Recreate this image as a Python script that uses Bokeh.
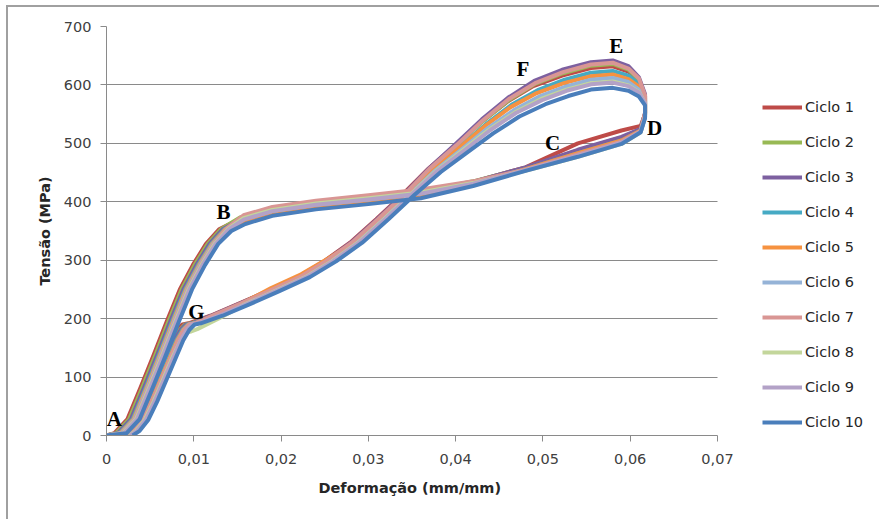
from bokeh.plotting import figure
from bokeh.models import Range1d, FixedTicker, Legend, LegendItem, Label, Title
from bokeh.embed import file_html
from bokeh.resources import INLINE

# ---------------- data ----------------
cycle_names = ["Ciclo 1", "Ciclo 2", "Ciclo 3", "Ciclo 4", "Ciclo 5",
               "Ciclo 6", "Ciclo 7", "Ciclo 8", "Ciclo 9", "Ciclo 10"]
cycle_colors = ["#BE4B48", "#98B954", "#7D60A0", "#46AAC4", "#F69240",
                "#95B3D7", "#D99694", "#C3D69B", "#B3A2C7", "#4A7EBB"]

strain_1 = [0.0000, 0.0009, 0.0024, 0.0039, 0.0054, 0.0069, 0.0084, 0.0099, 0.0114, 0.0129,
            0.0152, 0.0190, 0.0240, 0.0300, 0.0360, 0.0420, 0.0480, 0.0540, 0.0590, 0.0612,
            0.0617, 0.0617, 0.0610, 0.0598, 0.0580, 0.0555, 0.0522, 0.0489, 0.0459, 0.0429,
            0.0399, 0.0369, 0.0339, 0.0309, 0.0279, 0.0249, 0.0219, 0.0184, 0.0149, 0.0119,
            0.0094, 0.0087, 0.0081, 0.0074, 0.0064, 0.0054, 0.0044, 0.0034, 0.0024, 0.0016]
stress_1 = [0, 4, 28, 82, 138, 195, 250, 292, 328, 353,
            370, 384, 395, 404, 414, 434, 459, 500, 522, 530,
            550, 580, 606, 623, 632, 629, 616, 598, 571, 536,
            496, 457, 412, 370, 330, 298, 271, 247, 224, 205,
            192, 190, 181, 163, 128, 93, 58, 27, 8, 0]

strain_2 = [0.0000, 0.0011, 0.0026, 0.0041, 0.0056, 0.0071, 0.0086, 0.0101, 0.0116, 0.0131,
            0.0153, 0.0190, 0.0240, 0.0300, 0.0360, 0.0420, 0.0480, 0.0540, 0.0590, 0.0612,
            0.0617, 0.0617, 0.0610, 0.0598, 0.0580, 0.0555, 0.0523, 0.0491, 0.0461, 0.0431,
            0.0401, 0.0371, 0.0341, 0.0311, 0.0281, 0.0251, 0.0221, 0.0186, 0.0151, 0.0121,
            0.0097, 0.0090, 0.0084, 0.0077, 0.0067, 0.0057, 0.0047, 0.0037, 0.0027, 0.0019]
stress_2 = [0, 4, 28, 82, 138, 195, 250, 292, 328, 353,
            373, 387, 398, 407, 417, 435, 458, 488, 510, 524,
            551, 581, 609, 626, 636, 633, 620, 602, 574, 538,
            497, 457, 412, 370, 330, 298, 271, 247, 224, 205,
            192, 190, 181, 163, 128, 93, 58, 27, 8, 0]

strain_3 = [0.0000, 0.0013, 0.0028, 0.0043, 0.0058, 0.0073, 0.0088, 0.0103, 0.0118, 0.0133,
            0.0154, 0.0190, 0.0240, 0.0300, 0.0360, 0.0420, 0.0480, 0.0540, 0.0590, 0.0612,
            0.0617, 0.0617, 0.0610, 0.0598, 0.0580, 0.0555, 0.0522, 0.0490, 0.0460, 0.0430,
            0.0400, 0.0370, 0.0340, 0.0310, 0.0280, 0.0250, 0.0220, 0.0185, 0.0150, 0.0120,
            0.0098, 0.0091, 0.0085, 0.0078, 0.0068, 0.0058, 0.0048, 0.0038, 0.0028, 0.0020]
stress_3 = [0, 4, 28, 82, 138, 195, 250, 292, 328, 353,
            370, 384, 395, 404, 414, 434, 459, 489, 511, 525,
            552, 584, 613, 632, 642, 639, 626, 607, 578, 541,
            499, 458, 412, 370, 330, 298, 271, 247, 224, 205,
            192, 190, 181, 163, 128, 93, 58, 27, 8, 0]

strain_4 = [0.0000, 0.0015, 0.0030, 0.0045, 0.0060, 0.0075, 0.0090, 0.0105, 0.0120, 0.0135,
            0.0155, 0.0190, 0.0240, 0.0300, 0.0360, 0.0420, 0.0480, 0.0540, 0.0590, 0.0612,
            0.0617, 0.0617, 0.0610, 0.0598, 0.0580, 0.0555, 0.0525, 0.0494, 0.0464, 0.0434,
            0.0404, 0.0374, 0.0344, 0.0314, 0.0284, 0.0254, 0.0224, 0.0189, 0.0154, 0.0124,
            0.0100, 0.0093, 0.0087, 0.0080, 0.0070, 0.0060, 0.0050, 0.0040, 0.0030, 0.0022]
stress_4 = [0, 4, 28, 82, 138, 195, 250, 292, 328, 353,
            368, 382, 393, 402, 412, 431, 456, 483, 505, 522,
            549, 577, 601, 616, 624, 621, 609, 591, 566, 532,
            493, 456, 412, 370, 330, 298, 271, 247, 224, 205,
            192, 190, 181, 163, 128, 93, 58, 27, 8, 0]

strain_5 = [0.0000, 0.0016, 0.0031, 0.0046, 0.0061, 0.0076, 0.0091, 0.0106, 0.0121, 0.0136,
            0.0155, 0.0190, 0.0240, 0.0300, 0.0360, 0.0420, 0.0480, 0.0540, 0.0590, 0.0612,
            0.0617, 0.0617, 0.0610, 0.0598, 0.0580, 0.0555, 0.0524, 0.0493, 0.0463, 0.0433,
            0.0403, 0.0373, 0.0343, 0.0313, 0.0283, 0.0253, 0.0223, 0.0188, 0.0153, 0.0123,
            0.0101, 0.0094, 0.0088, 0.0081, 0.0071, 0.0061, 0.0051, 0.0041, 0.0031, 0.0023]
stress_5 = [0, 4, 28, 82, 138, 195, 250, 292, 328, 353,
            364, 378, 389, 398, 408, 429, 456, 483, 505, 522,
            548, 574, 597, 610, 618, 615, 603, 586, 562, 529,
            491, 455, 412, 370, 330, 302, 276, 252, 224, 205,
            192, 190, 181, 163, 128, 93, 58, 27, 8, 0]

strain_6 = [0.0000, 0.0017, 0.0032, 0.0047, 0.0062, 0.0077, 0.0092, 0.0107, 0.0122, 0.0137,
            0.0156, 0.0190, 0.0240, 0.0300, 0.0360, 0.0420, 0.0480, 0.0540, 0.0590, 0.0612,
            0.0617, 0.0617, 0.0610, 0.0598, 0.0580, 0.0555, 0.0526, 0.0497, 0.0467, 0.0437,
            0.0407, 0.0377, 0.0347, 0.0317, 0.0287, 0.0257, 0.0227, 0.0192, 0.0157, 0.0127,
            0.0102, 0.0095, 0.0089, 0.0082, 0.0072, 0.0062, 0.0052, 0.0042, 0.0032, 0.0024]
stress_6 = [0, 4, 28, 82, 138, 195, 250, 292, 328, 353,
            370, 384, 395, 404, 414, 431, 454, 480, 502, 520,
            546, 572, 592, 605, 612, 609, 597, 581, 557, 526,
            490, 454, 412, 370, 330, 298, 271, 247, 224, 205,
            192, 190, 181, 163, 128, 93, 58, 27, 8, 0]

strain_7 = [0.0000, 0.0018, 0.0033, 0.0048, 0.0063, 0.0078, 0.0093, 0.0108, 0.0123, 0.0138,
            0.0157, 0.0190, 0.0240, 0.0300, 0.0360, 0.0420, 0.0480, 0.0540, 0.0590, 0.0612,
            0.0617, 0.0617, 0.0610, 0.0598, 0.0580, 0.0555, 0.0523, 0.0491, 0.0461, 0.0431,
            0.0401, 0.0371, 0.0341, 0.0311, 0.0281, 0.0251, 0.0221, 0.0186, 0.0151, 0.0121,
            0.0102, 0.0095, 0.0089, 0.0082, 0.0072, 0.0062, 0.0052, 0.0042, 0.0032, 0.0024]
stress_7 = [0, 4, 28, 82, 138, 195, 250, 292, 328, 355,
            377, 391, 402, 411, 421, 435, 455, 481, 503, 521,
            552, 582, 611, 628, 638, 635, 622, 603, 576, 539,
            497, 458, 412, 370, 330, 298, 271, 247, 224, 205,
            192, 190, 181, 163, 128, 93, 58, 27, 8, 0]

strain_8 = [0.0000, 0.0019, 0.0034, 0.0049, 0.0064, 0.0079, 0.0094, 0.0109, 0.0124, 0.0139,
            0.0157, 0.0190, 0.0240, 0.0300, 0.0360, 0.0420, 0.0480, 0.0540, 0.0590, 0.0612,
            0.0617, 0.0617, 0.0610, 0.0598, 0.0580, 0.0555, 0.0527, 0.0498, 0.0468, 0.0438,
            0.0408, 0.0378, 0.0348, 0.0318, 0.0288, 0.0258, 0.0228, 0.0193, 0.0158, 0.0128,
            0.0104, 0.0097, 0.0091, 0.0084, 0.0074, 0.0064, 0.0054, 0.0044, 0.0034, 0.0026]
stress_8 = [0, 4, 28, 82, 138, 195, 250, 292, 328, 353,
            372, 386, 397, 406, 416, 432, 453, 477, 499, 519,
            545, 569, 588, 599, 606, 603, 592, 576, 553, 523,
            488, 453, 412, 370, 330, 298, 271, 247, 224, 200,
            182, 178, 176, 160, 128, 93, 58, 27, 8, 0]

strain_9 = [0.0000, 0.0020, 0.0035, 0.0050, 0.0065, 0.0080, 0.0095, 0.0110, 0.0125, 0.0140,
            0.0158, 0.0190, 0.0240, 0.0300, 0.0360, 0.0420, 0.0480, 0.0540, 0.0590, 0.0612,
            0.0617, 0.0617, 0.0610, 0.0598, 0.0580, 0.0555, 0.0527, 0.0499, 0.0469, 0.0439,
            0.0409, 0.0379, 0.0349, 0.0319, 0.0289, 0.0259, 0.0229, 0.0194, 0.0159, 0.0129,
            0.0105, 0.0098, 0.0092, 0.0085, 0.0075, 0.0065, 0.0055, 0.0045, 0.0035, 0.0027]
stress_9 = [0, 4, 28, 82, 138, 195, 250, 292, 328, 353,
            370, 384, 395, 404, 414, 431, 454, 479, 501, 520,
            545, 569, 587, 598, 604, 601, 590, 574, 552, 522,
            487, 453, 412, 370, 330, 298, 271, 247, 224, 205,
            192, 190, 181, 163, 128, 93, 58, 27, 8, 0]

strain_10 = [0.0000, 0.0023, 0.0038, 0.0053, 0.0068, 0.0083, 0.0098, 0.0113, 0.0128, 0.0143,
             0.0159, 0.0190, 0.0240, 0.0300, 0.0360, 0.0420, 0.0480, 0.0540, 0.0590, 0.0612,
             0.0617, 0.0617, 0.0610, 0.0598, 0.0580, 0.0555, 0.0529, 0.0503, 0.0473, 0.0443,
             0.0413, 0.0383, 0.0353, 0.0323, 0.0293, 0.0263, 0.0233, 0.0198, 0.0163, 0.0133,
             0.0108, 0.0101, 0.0095, 0.0088, 0.0078, 0.0068, 0.0058, 0.0048, 0.0038, 0.0030]
stress_10 = [0, 4, 28, 82, 138, 195, 250, 292, 328, 350,
             362, 376, 387, 396, 406, 427, 453, 477, 499, 519,
             543, 565, 580, 590, 595, 592, 581, 567, 546, 517,
             484, 451, 412, 370, 330, 298, 271, 247, 224, 205,
             192, 190, 181, 163, 128, 93, 58, 27, 8, 0]

all_strain = [strain_1, strain_2, strain_3, strain_4, strain_5,
              strain_6, strain_7, strain_8, strain_9, strain_10]
all_stress = [stress_1, stress_2, stress_3, stress_4, stress_5,
              stress_6, stress_7, stress_8, stress_9, stress_10]

point_letters = ["A", "B", "C", "D", "E", "F", "G"]
point_strain = [0.0009, 0.0134, 0.0511, 0.0628, 0.0584, 0.0477, 0.0103]
point_stress = [29, 382, 500, 527, 666, 628, 211]

x_ticks = [0, 0.01, 0.02, 0.03, 0.04, 0.05, 0.06, 0.07]
x_tick_labels = ["0", "0,01", "0,02", "0,03", "0,04", "0,05", "0,06", "0,07"]
y_ticks = [0, 100, 200, 300, 400, 500, 600, 700]
x_title = "Deformação (mm/mm)"
y_title = "Tensão (MPa)"

# ---------------- figure ----------------
GRID = "#8a8a8a"
FONT = "DejaVu Sans"
X_AXIS_END = 0.07
# frame runs to the right edge of the canvas so the legend (drawn in the
# frame) is not clipped; 611 px of frame correspond to 0..0.07
FRAME_END = X_AXIS_END * 775 / 611

p = figure(width=873, height=514, output_backend="svg", toolbar_location=None,
           x_range=Range1d(0, FRAME_END), y_range=Range1d(0, 700),
           min_border_left=98, min_border_right=0,
           min_border_top=19, min_border_bottom=86,
           styles={"margin-left": "6px", "margin-top": "5px",
                   "border-left": "2px solid #a0a0a0",
                   "border-top": "2px solid #a0a0a0"})
p.outline_line_color = None
p.background_fill_color = "white"
p.border_fill_color = "white"

p.xgrid.visible = False
p.ygrid.grid_line_color = GRID
p.ygrid.grid_line_width = 1
p.ygrid.ticker = FixedTicker(ticks=y_ticks)
p.ygrid.cross_bounds = (0, X_AXIS_END)

p.xaxis.ticker = FixedTicker(ticks=x_ticks)
p.xaxis.major_label_overrides = {t: l for t, l in zip(x_ticks, x_tick_labels)}
p.xaxis.bounds = (0, X_AXIS_END)
p.yaxis.ticker = FixedTicker(ticks=y_ticks)

for ax in (p.xaxis[0], p.yaxis[0]):
    ax.axis_line_color = GRID
    ax.axis_line_width = 1
    ax.major_tick_line_color = GRID
    ax.major_tick_out = 6
    ax.major_tick_in = 0
    ax.minor_tick_line_color = None
    ax.major_label_text_font = FONT
    ax.major_label_text_font_size = "14.5px"
    ax.major_label_text_color = "#404040"
    ax.axis_label_text_font = FONT
    ax.axis_label_text_font_size = "14.5px"
    ax.axis_label_text_font_style = "bold"
    ax.axis_label_text_color = "#262626"

p.yaxis.axis_label = y_title
p.xaxis.major_label_standoff = 12
p.yaxis.major_label_standoff = 9
p.yaxis.axis_label_standoff = 8

# x-axis title centred under 0..0.07 (not under the whole frame)
xt = Title(text=x_title, align="left", offset=212, standoff=22,
           text_font=FONT, text_font_size="14.5px", text_font_style="bold",
           text_color="#262626")
p.add_layout(xt, "below")

items = []
for name, col, xs, ys in zip(cycle_names, cycle_colors, all_strain, all_stress):
    r = p.line(xs, ys, line_color=col, line_width=4, line_join="round")
    items.append(LegendItem(label=name, renderers=[r]))

legend = Legend(items=items, location=(656, 3))
legend.label_text_font = FONT
legend.label_text_font_size = "14.5px"
legend.label_text_color = "#262626"
legend.glyph_width = 40
legend.glyph_height = 20
legend.label_height = 20
legend.spacing = 15
legend.label_standoff = 3
legend.padding = 0
legend.margin = 0
legend.border_line_color = None
legend.background_fill_alpha = 0
p.add_layout(legend, "center")

for t, xv, yv in zip(point_letters, point_strain, point_stress):
    p.add_layout(Label(x=xv, y=yv, text=t, text_align="center",
                       text_baseline="middle", text_font="Liberation Serif",
                       text_font_style="bold", text_font_size="21px",
                       text_color="black"))

open("out.html", "w").write(file_html(p, INLINE))
